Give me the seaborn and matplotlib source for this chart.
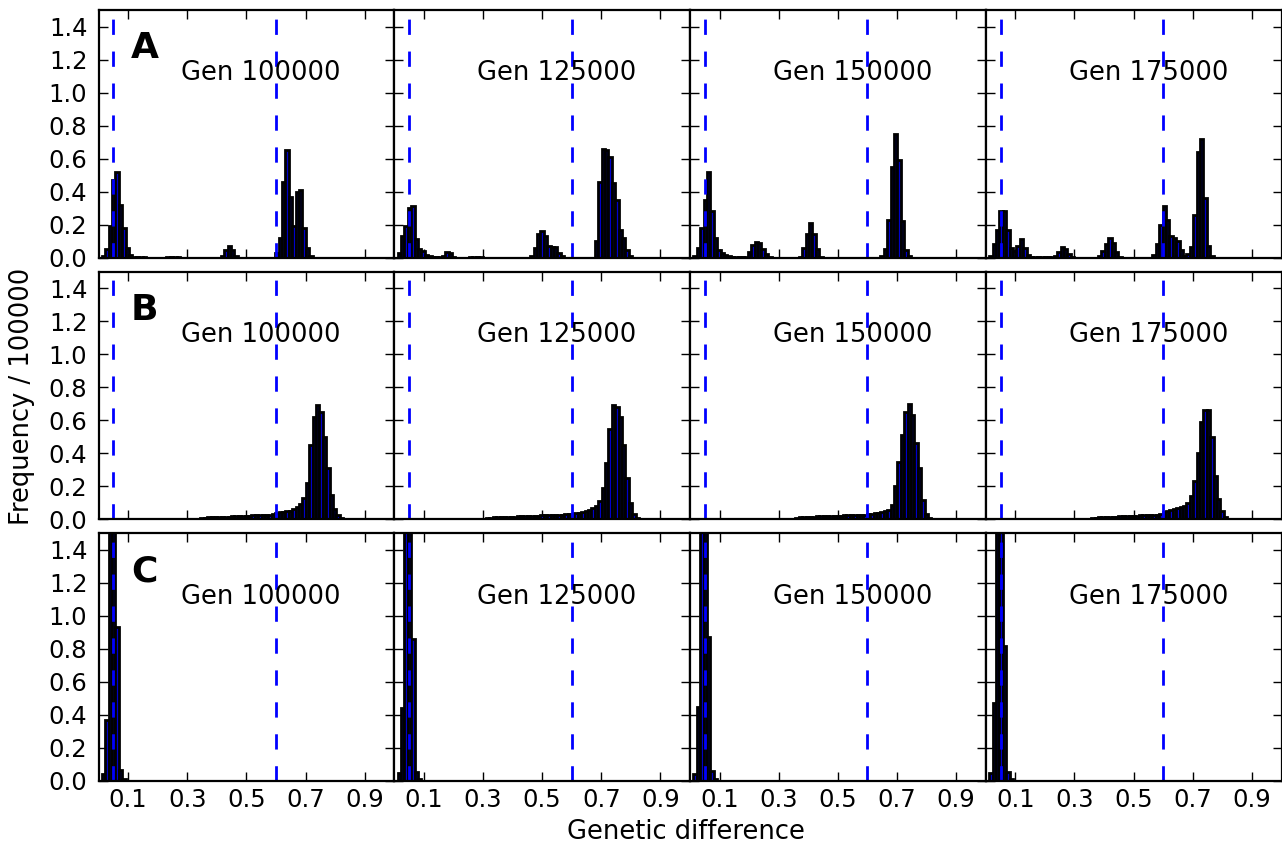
import numpy as np
import pandas as pd
import matplotlib
matplotlib.use("Agg")
import matplotlib.pyplot as plt
import seaborn as sns

# ---------------- data ----------------
generations = ["100000", "125000", "150000", "175000"]
panel_letters = ["A", "B", "C"]
n_bins = 87                      # histogram bins over [0, 1]
x_ticks = [0.1, 0.3, 0.5, 0.7, 0.9]
y_ticks = [0.0, 0.2, 0.4, 0.6, 0.8, 1.0, 1.2, 1.4]
threshold_low = 0.05
threshold_high = 0.6
x_label = "Genetic difference"
y_label = "Frequency / 100000"

# each series: list of (first bin index, heights of consecutive bins)
A_100000 = [(1, [0.01, 0.05, 0.19, 0.47, 0.52, 0.32, 0.18, 0.06, 0.015, 0.006, 0.003, 0.003, 0.002]),
            (20, [0.004, 0.005, 0.005, 0.004]),
            (36, [0.01, 0.045, 0.07, 0.045, 0.01]),
            (52, [0.03, 0.12, 0.46, 0.65, 0.37, 0.19, 0.40, 0.41, 0.18, 0.06, 0.01])]
A_125000 = [(1, [0.026, 0.13, 0.19, 0.30, 0.31, 0.11, 0.05, 0.04, 0.015, 0.008, 0.004, 0.004, 0.004]),
            (14, [0.01, 0.035, 0.03, 0.005]),
            (22, [0.003, 0.003, 0.003, 0.003]),
            (40, [0.01, 0.06, 0.14, 0.16, 0.13, 0.07, 0.065, 0.065, 0.03, 0.01]),
            (59, [0.10, 0.46, 0.66, 0.65, 0.61, 0.45, 0.35, 0.17, 0.12, 0.047, 0.012])]
A_150000 = [(1, [0.01, 0.057, 0.18, 0.35, 0.52, 0.28, 0.12, 0.047, 0.026, 0.015, 0.01,
                 0.004, 0.004, 0.004, 0.004, 0.004]),
            (17, [0.035, 0.075, 0.095, 0.09, 0.055, 0.024, 0.006]),
            (32, [0.005, 0.057, 0.14, 0.21, 0.14, 0.05, 0.005]),
            (56, [0.01, 0.05, 0.23, 0.55, 0.75, 0.59, 0.22, 0.045, 0.01])]
A_175000 = [(1, [0.01, 0.08, 0.17, 0.28, 0.28, 0.17, 0.06, 0.04, 0.07, 0.11, 0.06, 0.016,
                 0.004, 0.003, 0.003, 0.003, 0.003, 0.003, 0.003]),
            (20, [0.008, 0.035, 0.065, 0.055, 0.02, 0.005]),
            (33, [0.01, 0.04, 0.085, 0.12, 0.09, 0.035, 0.005]),
            (49, [0.016, 0.085, 0.20, 0.31, 0.23, 0.13, 0.12, 0.10, 0.045, 0.01,
                  0.02, 0.065, 0.26, 0.64, 0.72, 0.36, 0.07, 0.012])]

B_100000 = [(29, [0.003, 0.006, 0.01, 0.012, 0.013, 0.014, 0.014, 0.015, 0.015, 0.016,
                  0.017, 0.018, 0.019, 0.02, 0.021, 0.022, 0.023, 0.024, 0.024, 0.025,
                  0.026, 0.027, 0.03, 0.038, 0.042, 0.045, 0.048, 0.052, 0.06, 0.075,
                  0.09, 0.13, 0.22, 0.45, 0.62, 0.69, 0.65, 0.50, 0.31, 0.145,
                  0.065, 0.024, 0.008, 0.003])]
B_125000 = [(26, [0.003, 0.006, 0.009, 0.011, 0.012, 0.013, 0.014, 0.015, 0.015, 0.016,
                  0.017, 0.017, 0.018, 0.019, 0.02, 0.021, 0.022, 0.023, 0.024, 0.025,
                  0.026, 0.027, 0.028, 0.029, 0.03, 0.032, 0.034, 0.037, 0.04, 0.044,
                  0.05, 0.058, 0.068, 0.08, 0.11, 0.19, 0.34, 0.55, 0.69, 0.68,
                  0.62, 0.45, 0.25, 0.10, 0.035, 0.01, 0.003])]
B_150000 = [(30, [0.004, 0.008, 0.011, 0.013, 0.014, 0.015, 0.016, 0.017, 0.018, 0.018,
                  0.019, 0.019, 0.02, 0.021, 0.022, 0.023, 0.024, 0.024, 0.025, 0.026,
                  0.027, 0.028, 0.03, 0.033, 0.037, 0.041, 0.045, 0.05, 0.055, 0.085,
                  0.20, 0.35, 0.51, 0.65, 0.70, 0.63, 0.46, 0.31, 0.115, 0.034,
                  0.008, 0.003])]
B_175000 = [(30, [0.004, 0.007, 0.009, 0.011, 0.012, 0.013, 0.014, 0.015, 0.016, 0.017,
                  0.018, 0.019, 0.02, 0.021, 0.022, 0.023, 0.024, 0.025, 0.026, 0.027,
                  0.028, 0.032, 0.045, 0.05, 0.055, 0.062, 0.068, 0.073, 0.08, 0.10,
                  0.14, 0.23, 0.40, 0.59, 0.665, 0.66, 0.50, 0.26, 0.12, 0.05,
                  0.012, 0.004])]

C_100000 = [(1, [0.04, 0.37, 3.0, 2.4, 0.93, 0.067, 0.015])]
C_125000 = [(1, [0.047, 0.44, 3.0, 2.4, 0.86, 0.057, 0.01])]
C_150000 = [(1, [0.04, 0.45, 3.0, 2.4, 0.87, 0.06, 0.01])]
C_175000 = [(1, [0.047, 0.47, 3.0, 2.4, 0.82, 0.057, 0.01])]

rows = [[A_100000, A_125000, A_150000, A_175000],
        [B_100000, B_125000, B_150000, B_175000],
        [C_100000, C_125000, C_150000, C_175000]]

# ---------------- style ----------------
sns.set_theme(style="ticks", rc={
    "axes.linewidth": 1.6,
    "axes.edgecolor": "black",
    "xtick.direction": "in",
    "ytick.direction": "in",
    "xtick.color": "black",
    "ytick.color": "black",
    "text.color": "black",
    "axes.labelcolor": "black",
    "lines.scale_dashes": False,
})
plt.rcParams["font.family"] = ["DejaVu Sans"]

fig, axes = plt.subplots(3, 4, figsize=(12.82, 8.47), dpi=100, sharex=True, sharey=True)
fig.subplots_adjust(left=98.5 / 1282, right=1281.5 / 1282, top=1 - 10 / 847,
                    bottom=1 - 781 / 847, wspace=0, hspace=0.057)

edges = np.linspace(0, 1, n_bins + 1)
width = edges[1] - edges[0]
bin_list = edges.tolist()

for i, row in enumerate(rows):
    for j, segs in enumerate(row):
        ax = axes[i, j]
        idx, vals = [], []
        for start, heights in segs:
            for k, h in enumerate(heights):
                idx.append(start + k)
                vals.append(h)
        df = pd.DataFrame({"diff": (np.array(idx) + 0.5) * width, "freq": vals})
        sns.histplot(data=df, x="diff", weights="freq", bins=bin_list, ax=ax, color="#0000cc",
                     edgecolor="black", linewidth=2.0, alpha=1.0)
        for t in (threshold_low, threshold_high):
            ax.axvline(t, color="#0000ff", lw=2.0, dashes=(11, 12))
        ax.set_xlim(0, 1)
        ax.set_ylim(0, 1.5)
        ax.set_xticks(x_ticks)
        ax.set_yticks(y_ticks)
        ax.set_xlabel("")
        ax.set_ylabel("")
        ax.tick_params(axis="both", direction="in", length=6.5, width=1.0,
                       top=True, right=True, labelsize=17.5, color="black",
                       labelcolor="black")
        ax.tick_params(axis="x", pad=5)
        ax.tick_params(axis="y", pad=8)
        for sp in ax.spines.values():
            sp.set_visible(True)
            sp.set_linewidth(1.6)
        ax.text(0.55, 0.745, f"Gen {generations[j]}", transform=ax.transAxes,
                ha="center", va="center", fontsize=18.5, color="black")
        if j == 0:
            ax.text(0.11, 0.845, panel_letters[i], transform=ax.transAxes,
                    ha="left", va="center", fontsize=26, fontweight="bold", color="black")

fig.text(686 / 1282, 1 - 832 / 847, x_label, ha="center", va="center", fontsize=18.5,
         color="black")
fig.text(22 / 1282, 1 - 396 / 847, y_label, ha="center", va="center",
         rotation=90, fontsize=18.5, color="black")

fig.savefig("out.png", dpi=100)
